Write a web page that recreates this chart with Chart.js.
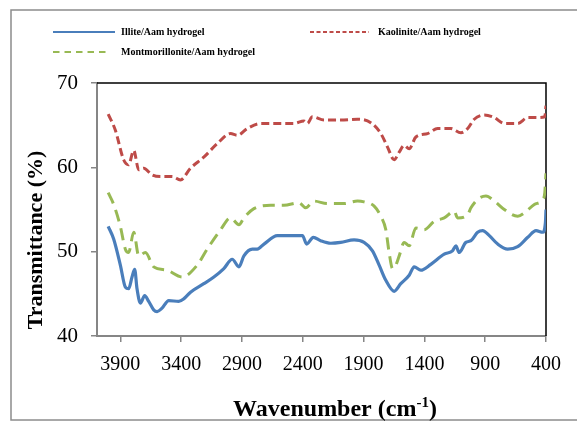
<!DOCTYPE html>
<html>
<head>
<meta charset="utf-8">
<script src="https://cdn.jsdelivr.net/npm/chart.js@4.4.1/dist/chart.umd.min.js"></script>
<style>
  html, body { margin: 0; padding: 0; background: #fff; }
  #wrap { position: relative; width: 577px; height: 423px; }
</style>
</head>
<body>
<div id="wrap"><canvas id="ftir" width="577" height="423"></canvas></div>
<script>
// -- Data -------------------------------------------------------------

const X_TICKS = [3900, 3400, 2900, 2400, 1900, 1400, 900, 400];
const Y_TICKS = [40, 50, 60, 70];

const illiteWn = [4000, 3955, 3900, 3859, 3832, 3804, 3782, 3763, 3735, 3700,
  3667, 3626, 3598, 3557, 3502, 3420, 3379, 3323, 3214, 3131, 3049, 2980, 2925,
  2884, 2815, 2774, 2719, 2609, 2500, 2403, 2368, 2313, 2253, 2170, 2088, 1978,
  1896, 1827, 1772, 1717, 1649, 1594, 1525, 1484, 1429, 1347, 1237, 1169, 1141,
  1114, 1059, 1017, 962, 921, 866, 797, 715, 633, 550, 482, 427, 405, 400];
const illiteT = [53.0, 51.5, 48.4, 45.8, 45.6, 47.0, 47.9, 45.6, 43.9, 44.8,
  44.1, 43.1, 42.9, 43.3, 44.2, 44.1, 44.4, 45.2, 46.2, 47.0, 48.0, 49.1, 48.2,
  49.5, 50.3, 50.3, 50.9, 51.9, 51.9, 51.9, 50.9, 51.7, 51.3, 51.0, 51.1, 51.4,
  51.1, 50.1, 48.4, 46.6, 45.3, 46.2, 47.2, 48.2, 47.8, 48.5, 49.7, 50.1, 50.7,
  49.9, 51.1, 51.3, 52.3, 52.5, 51.9, 50.9, 50.3, 50.6, 51.7, 52.5, 52.3, 53.4, 55.0];

const kaoliniteWn = [4000, 3941, 3873, 3832, 3790, 3749, 3708, 3639, 3557, 3474,
  3406, 3323, 3214, 3104, 2994, 2939, 2856, 2747, 2609, 2473, 2390, 2362, 2321,
  2225, 2088, 1950, 1841, 1758, 1703, 1649, 1607, 1566, 1525, 1470, 1374, 1291,
  1182, 1099, 1044, 990, 907, 825, 743, 633, 550, 468, 410, 400];
const kaoliniteT = [66.3, 64.4, 60.9, 60.3, 62.0, 59.7, 59.9, 59.1, 58.9, 58.9,
  58.5, 59.9, 61.2, 62.8, 64.0, 63.8, 64.6, 65.2, 65.2, 65.2, 65.5, 65.2, 66.0,
  65.6, 65.6, 65.7, 65.3, 64.0, 62.4, 60.9, 61.8, 62.6, 62.2, 63.6, 64.0, 64.6,
  64.6, 64.1, 64.6, 65.7, 66.2, 65.9, 65.2, 65.2, 65.9, 65.9, 66.0, 67.3];

const montWn = [4000, 3955, 3900, 3859, 3832, 3790, 3749, 3694, 3626, 3516,
  3392, 3268, 3186, 3076, 2994, 2925, 2884, 2802, 2665, 2555, 2431, 2376, 2308,
  2198, 2061, 1950, 1896, 1813, 1758, 1717, 1690, 1662, 1635, 1607, 1566, 1525,
  1470, 1402, 1319, 1237, 1155, 1127, 1044, 1017, 962, 894, 825, 743, 633, 578,
  496, 427, 410, 400];
const montT = [57.0, 55.6, 53.0, 50.3, 49.9, 52.3, 49.5, 49.9, 48.2, 47.8,
  47.0, 48.4, 50.3, 52.6, 54.0, 53.2, 54.0, 55.1, 55.5, 55.5, 55.8, 55.2, 56.0,
  55.7, 55.7, 56.0, 55.9, 55.4, 54.2, 52.6, 49.9, 48.0, 48.4, 49.5, 51.1, 50.7,
  52.8, 52.6, 53.6, 54.0, 54.8, 54.0, 54.4, 55.2, 56.2, 56.6, 56.0, 55.0, 54.2,
  54.6, 55.6, 56.2, 57.0, 59.3];

// -- Styling ----------------------------------------------------------

const SERIF = "'Liberation Serif', 'Times New Roman', serif";
const AXIS_GREY = "#868686";
const BLUE = "#4a7ebb";
const RED = "#be4b48";
const GREEN = "#98b954";

const toPoints = (xs, ys) => xs.map((x, i) => ({ x: x, y: ys[i] }));

const series = [
  { label: "Illite/Aam hydrogel", color: BLUE, dash: [], width: 3.2,
    legendDash: [], data: toPoints(illiteWn, illiteT) },
  { label: "Kaolinite/Aam hydrogel", color: RED, dash: [8, 4], width: 3,
    legendDash: [4, 2.5], data: toPoints(kaoliniteWn, kaoliniteT) },
  { label: "Montmorillonite/Aam hydrogel", color: GREEN, dash: [12, 7], width: 3,
    legendDash: [6.5, 5], data: toPoints(montWn, montT) },
];

// Legend entries: [series index, line x0, line x1, row y, text x]
const legendLayout = [
  [0, 53, 115, 32, 121],
  [1, 310, 369, 32, 378],
  [2, 53, 108, 52, 121],
];

// -- Custom decorations (frame, plot border, legend, axis titles) ----

const decorations = {
  id: "decorations",
  beforeDatasetsDraw(chart) {
    const { ctx, chartArea: a } = chart;
    ctx.save();
    // black plot-area border (top & right); left/bottom are the grey axes
    ctx.strokeStyle = "#000";
    ctx.lineWidth = 1.5;
    ctx.beginPath();
    ctx.moveTo(a.left, a.top);
    ctx.lineTo(a.right, a.top);
    ctx.lineTo(a.right, a.bottom);
    ctx.stroke();
    ctx.restore();
  },
  afterDraw(chart) {
    const { ctx } = chart;
    ctx.save();

    // outer chart frame
    ctx.strokeStyle = "#8c8c8c";
    ctx.lineWidth = 1.5;
    ctx.strokeRect(11, 10, 580, 410);

    // legend
    legendLayout.forEach(([idx, x0, x1, y, tx]) => {
      const s = series[idx];
      ctx.strokeStyle = s.color;
      ctx.lineWidth = 2.2;
      ctx.setLineDash(s.legendDash);
      ctx.beginPath();
      ctx.moveTo(x0, y);
      ctx.lineTo(x1, y);
      ctx.stroke();
      ctx.setLineDash([]);
      ctx.fillStyle = "#000";
      ctx.font = "bold 10px " + SERIF;
      ctx.textAlign = "left";
      ctx.textBaseline = "middle";
      ctx.fillText(s.label, tx, y);
    });

    // y axis title
    ctx.fillStyle = "#000";
    ctx.font = "bold 22px " + SERIF;
    ctx.textAlign = "center";
    ctx.textBaseline = "middle";
    ctx.save();
    ctx.translate(36, 240);
    ctx.rotate(-Math.PI / 2);
    ctx.fillText("Transmittance (%)", 0, 0);
    ctx.restore();

    // x axis title with superscript -1
    const main = "Wavenumber (cm";
    const sup = "-1";
    const close = ")";
    ctx.font = "bold 24px " + SERIF;
    const wMain = ctx.measureText(main).width;
    const wClose = ctx.measureText(close).width;
    ctx.font = "bold 15px " + SERIF;
    const wSup = ctx.measureText(sup).width;
    let x = 335 - (wMain + wSup + wClose) / 2;
    const y = 416;
    ctx.textAlign = "left";
    ctx.textBaseline = "alphabetic";
    ctx.font = "bold 24px " + SERIF;
    ctx.fillText(main, x, y);
    x += wMain;
    ctx.font = "bold 15px " + SERIF;
    ctx.fillText(sup, x, y - 9);
    x += wSup;
    ctx.font = "bold 24px " + SERIF;
    ctx.fillText(close, x, y);

    ctx.restore();
  },
};

// -- Chart ------------------------------------------------------------

new Chart(document.getElementById("ftir"), {
  type: "line",
  data: {
    datasets: series.map((s) => ({
      label: s.label,
      data: s.data,
      borderColor: s.color,
      borderWidth: s.width,
      borderDash: s.dash,
      borderCapStyle: "butt",
      pointRadius: 0,
      fill: false,
      cubicInterpolationMode: "monotone",
    })),
  },
  options: {
    responsive: false,
    animation: false,
    layout: { padding: { left: 0, right: 31, top: 83, bottom: 0 } },
    plugins: {
      legend: { display: false },
      tooltip: { enabled: false },
    },
    scales: {
      x: {
        type: "linear",
        reverse: true,
        min: 400,
        max: 4092,
        afterBuildTicks: (scale) => {
          scale.ticks = X_TICKS.map((v) => ({ value: v }));
        },
        afterFit: (scale) => { scale.height = 87; },
        grid: {
          drawOnChartArea: false,
          color: AXIS_GREY,
          lineWidth: 1.5,
          tickLength: 6,
        },
        border: { color: AXIS_GREY, width: 2 },
        ticks: {
          autoSkip: false,
          maxRotation: 0,
          padding: 11,
          color: "#000",
          font: { family: SERIF, size: 20 },
          callback: (v) => String(v),
        },
      },
      y: {
        min: 40,
        max: 70,
        afterBuildTicks: (scale) => {
          scale.ticks = Y_TICKS.map((v) => ({ value: v }));
        },
        afterFit: (scale) => { scale.width = 97; },
        grid: {
          drawOnChartArea: false,
          color: AXIS_GREY,
          lineWidth: 1.5,
          tickLength: 6,
        },
        border: { color: AXIS_GREY, width: 2 },
        ticks: {
          padding: 13,
          color: "#000",
          font: { family: SERIF, size: 21 },
        },
      },
    },
  },
  plugins: [decorations],
});
</script>
</body>
</html>
